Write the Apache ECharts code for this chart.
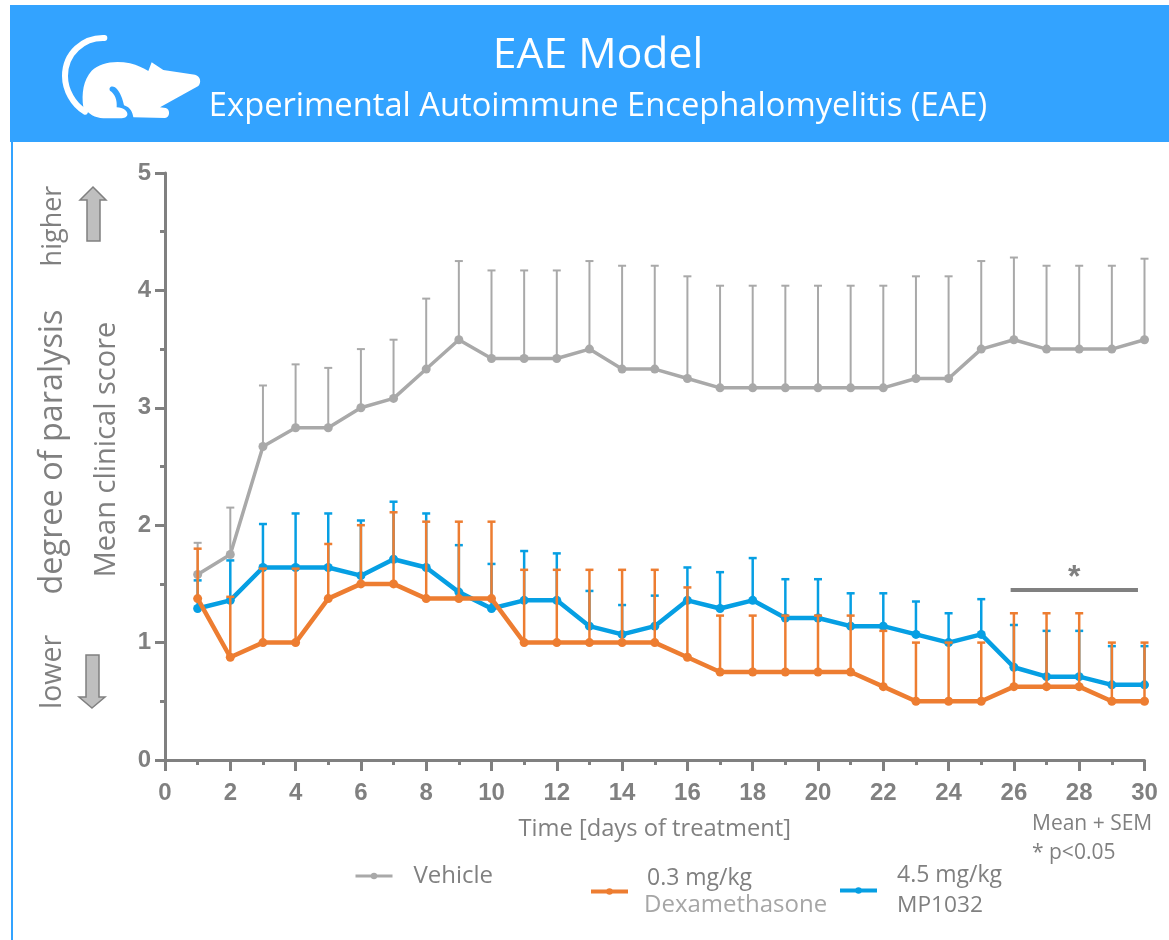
<!DOCTYPE html>
<html><head><meta charset="utf-8">
<style>html,body{margin:0;padding:0;background:#fff}#c{width:1169px;height:940px}</style>
<script src="https://cdn.jsdelivr.net/npm/echarts@6/dist/echarts.min.js"></script>
</head><body><div id="c"></div>
<script>
const days = [1,2,3,4,5,6,7,8,9,10,11,12,13,14,15,16,17,18,19,20,21,22,23,24,25,26,27,28,29,30];
const vehicle = [1.58,1.75,2.67,2.83,2.83,3.0,3.08,3.33,3.58,3.42,3.42,3.42,3.5,3.33,3.33,3.25,3.17,3.17,3.17,3.17,3.17,3.17,3.25,3.25,3.5,3.58,3.5,3.5,3.5,3.58];
const vehicleTop = [1.85,2.15,3.19,3.37,3.34,3.5,3.58,3.93,4.25,4.17,4.17,4.17,4.25,4.21,4.21,4.12,4.04,4.04,4.04,4.04,4.04,4.04,4.12,4.12,4.25,4.28,4.21,4.21,4.21,4.27];
const dexa = [1.375,0.875,1,1,1.375,1.5,1.5,1.375,1.375,1.375,1,1,1,1,1,0.875,0.75,0.75,0.75,0.75,0.75,0.625,0.5,0.5,0.5,0.625,0.625,0.625,0.5,0.5];
const dexaTop = [1.8,1.39,1.63,1.63,1.84,2.0,2.11,2.03,2.03,2.03,1.62,1.62,1.62,1.62,1.62,1.47,1.23,1.23,1.23,1.23,1.23,1.1,1.0,1.0,1.0,1.25,1.25,1.25,1.0,1.0];
const mp = [1.29,1.36,1.64,1.64,1.64,1.57,1.71,1.64,1.43,1.29,1.36,1.36,1.14,1.07,1.14,1.36,1.29,1.36,1.21,1.21,1.14,1.14,1.07,1.0,1.07,0.79,0.71,0.71,0.64,0.64];
const mpTop = [1.53,1.7,2.01,2.1,2.1,2.04,2.2,2.1,1.83,1.67,1.78,1.76,1.44,1.32,1.4,1.64,1.6,1.72,1.54,1.54,1.42,1.42,1.35,1.25,1.37,1.15,1.1,1.1,0.97,0.97];
const sigRange = [25.9,29.8];
const sigLevel = 1.45;

const GREY='#808080', VEH='#a9a9a9', OR='#ed7d31', BL='#069fe3', HEAD='#33a3ff';
const FONT='"Open Sans"';

function errSeries(name,means,tops,color,w,z){
  return {type:'custom',name:name+' SEM',silent:true,z:z,
    data:days.map((d,i)=>[d,means[i],tops[i]]),
    encode:{x:0,y:[1,2]},
    renderItem(p,api){
      const a=api.coord([api.value(0),api.value(1)]), b=api.coord([api.value(0),api.value(2)]);
      const st={stroke:color,lineWidth:w,fill:null};
      return {type:'group',children:[
        {type:'line',shape:{x1:a[0],y1:a[1],x2:b[0],y2:b[1]},style:st},
        {type:'line',shape:{x1:b[0]-4,y1:b[1],x2:b[0]+4,y2:b[1]},style:st}
      ]};
    }};
}
function lineSeries(name,vals,color,w,z,extra){
  return Object.assign({type:'line',name,data:days.map((d,i)=>[d,vals[i]]),symbol:'circle',symbolSize:9,
    lineStyle:{color,width:w},itemStyle:{color},z:z,animation:false},extra||{});
}
function txt(size,color,lh,pad){return {fontFamily:FONT,fontSize:size,color,lineHeight:lh,padding:[0,0,0,pad]};}
function legendAt(name,left,top,rich,fmt,w){
  return {data:[{name}],left,top,orient:'horizontal',itemWidth:37,itemHeight:8,itemGap:0,padding:0,
    lineStyle:{width:w},
    textStyle:{rich,fontFamily:FONT,color:GREY},formatter:fmt,selectedMode:false};
}
const rot=(text,x,y,size)=>({type:'text',x,y,rotation:Math.PI/2,style:{text,fontFamily:FONT,fontSize:size,fill:GREY,align:'center',verticalAlign:'middle'}});
const mouseSeries={type:'custom',coordinateSystem:'none',silent:true,z:1,data:[0],
  renderItem(){return {type:'group',scaleX:1/3,scaleY:1/3,x:0,y:0,children:[
  {type:'path',shape:{pathData:'M250 322 C244 280 250 240 275 212 C300 188 345 180 390 190 C412 195 430 205 445 213 L455 187 L490 210 L585 224 C600 228 606 245 595 258 L480 322 L497 324 C512 328 510 353 495 354 L400 352 C398 338 392 322 372 316 C368 300 362 275 345 262 C335 255 325 262 330 272 C345 282 352 300 350 322 C370 322 385 335 382 345 C378 356 365 355 350 355 L310 355 C285 354 265 342 250 322 Z'},style:{fill:'#fff'}},
  {type:'path',shape:{pathData:'M313 114 C250 112 195 160 195 228 C195 270 220 315 255 335'},style:{fill:null,stroke:'#fff',lineWidth:18,lineCap:'round'}}
]};}};
const opt={
  animation:false,
  backgroundColor:'#fff',
  grid:{left:165,top:173,width:979.5,height:587,containLabel:false},
  xAxis:{type:'value',min:0,max:30,interval:2,
    name:'Time [days of treatment]',nameLocation:'middle',nameGap:57,
    nameTextStyle:{fontFamily:FONT,fontSize:23.7,color:GREY},
    axisLine:{show:true,onZero:false,lineStyle:{color:GREY,width:3}},
    axisTick:{show:true,length:11,lineStyle:{color:GREY,width:3}},
    minorTick:{show:true,splitNumber:2,length:5,lineStyle:{color:GREY,width:3}},
    splitLine:{show:false},
    axisLabel:{fontFamily:'"Liberation Sans"',fontWeight:'bold',fontSize:24,color:GREY,margin:21}},
  yAxis:{type:'value',min:0,max:5,interval:1,
    axisLine:{show:true,onZero:false,lineStyle:{color:GREY,width:3}},
    axisTick:{show:true,length:10,lineStyle:{color:GREY,width:3}},
    minorTick:{show:true,splitNumber:2,length:5,lineStyle:{color:GREY,width:3}},
    splitLine:{show:false},
    axisLabel:{fontFamily:'"Liberation Sans"',fontWeight:'bold',fontSize:24,color:GREY,margin:14,padding:[3,0,0,0]}},
  legend:[
    legendAt('Vehicle',354,864,{c:txt(24,GREY,32,16)},()=>'{c|Vehicle}',3),
    legendAt('0.3 mg/kg Dexamethasone',589,867,{a:txt(23,GREY,28,14),b:txt(24,'#a6a6a6',26,11)},()=>'{a|0.3 mg/kg}\n{b|Dexamethasone}',4),
    legendAt('4.5 mg/kg MP1032',838,864,{a:txt(23,GREY,30,15),c:txt(22.7,GREY,30,15)},()=>'{a|4.5 mg/kg}\n{c|MP1032}',4)
  ],
  graphic:[
    {type:'rect',shape:{x:10,y:5,width:1159,height:137},style:{fill:HEAD},silent:true,z:-1},
    {type:'rect',shape:{x:11,y:142,width:2,height:798},style:{fill:HEAD},silent:true,z:-1},
    {type:'text',x:598,y:56,style:{text:'EAE Model',fontFamily:FONT,fontSize:42.7,fill:'#fff',align:'center',verticalAlign:'middle'}},
    {type:'text',x:598,y:107,style:{text:'Experimental Autoimmune Encephalomyelitis (EAE)',fontFamily:FONT,fontSize:32.7,fill:'#fff',align:'center',verticalAlign:'middle'}},
    rot('higher',53,226,27),
    rot('degree of paralysis',53,452,32.4),
    rot('lower',53,672,28.5),
    rot('Mean clinical score',107,449.5,29),
    {type:'polygon',shape:{points:[[93,187],[106,200],[100,200],[100,241],[87,241],[87,200],[80,200]]},style:{fill:'#bfbfbf',stroke:GREY,lineWidth:1.5}},
    {type:'polygon',shape:{points:[[92,708],[105,697],[99,697],[99,655],[86,655],[86,697],[79,697]]},style:{fill:'#bfbfbf',stroke:GREY,lineWidth:1.5}},
    {type:'text',x:1032,y:824,style:{text:'Mean + SEM',fontFamily:FONT,fontSize:21,fill:GREY,verticalAlign:'middle'}},
    {type:'text',x:1032,y:853,style:{text:'* p<0.05',fontFamily:FONT,fontSize:21,fill:GREY,verticalAlign:'middle'}}
  ],
  series:[
    mouseSeries,
    errSeries('Vehicle',vehicle,vehicleTop,VEH,2,2),
    lineSeries('Vehicle',vehicle,VEH,3.5,3),
    errSeries('MP1032',mp,mpTop,BL,2.5,4),
    lineSeries('4.5 mg/kg MP1032',mp,BL,4.5,4),
    errSeries('Dexa',dexa,dexaTop,OR,2.5,5),
    lineSeries('0.3 mg/kg Dexamethasone',dexa,OR,4.5,6,{
      markLine:{silent:true,symbol:'none',animation:false,
        lineStyle:{color:GREY,width:4,type:'solid'},
        label:{show:true,position:'middle',formatter:'*',fontFamily:'"Liberation Sans"',fontWeight:'bold',fontSize:32,color:GREY,distance:-4},
        data:[[{coord:[sigRange[0],sigLevel]},{coord:[sigRange[1],sigLevel]}]]}})
  ]
};
echarts.init(document.getElementById('c'),null,{renderer:'canvas'}).setOption(opt);
</script></body></html>
